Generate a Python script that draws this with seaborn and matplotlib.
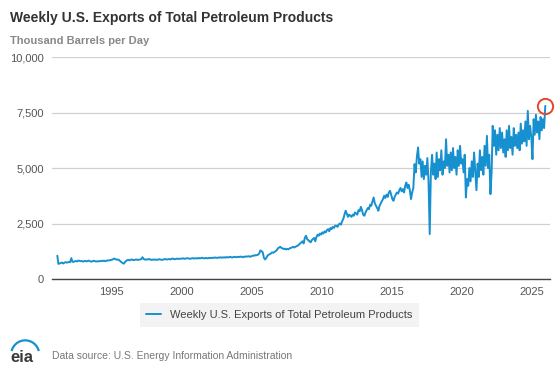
import numpy as np
import pandas as pd
import matplotlib.pyplot as plt
import matplotlib.ticker as mticker
from matplotlib.patches import Arc
import seaborn as sns

# monthly readings (thousand barrels per day), Feb 1991 .. Dec 2025
exports_1991_1999 = [
    1050, 680, 700, 720, 740, 700, 730, 760, 740, 750, 770,
    760, 940, 780, 770, 800, 810, 790, 830, 820, 800, 810, 790,
    800, 820, 790, 810, 830, 800, 780, 800, 820, 810, 790, 800,
    790, 810, 800, 820, 810, 830, 800, 820, 840, 830, 850, 860,
    870, 900, 920, 890, 870, 880, 850, 800, 760, 720, 690, 760,
    820, 850, 860, 840, 870, 880, 850, 860, 870, 880, 860, 870,
    880, 900, 980, 900, 880, 870, 890, 880, 900, 870, 860, 880,
    870, 880, 860, 870, 890, 880, 870, 860, 880, 900, 890, 880,
    890, 900, 880, 910, 920, 900, 890, 910, 920, 900, 910, 920,
]
exports_2000_2009 = [
    920, 930, 910, 920, 940, 930, 920, 910, 930, 940, 920, 930,
    940, 920, 950, 930, 940, 960, 940, 930, 950, 940, 930, 950,
    950, 940, 960, 950, 970, 960, 950, 970, 960, 980, 960, 970,
    980, 960, 990, 970, 980, 1000, 980, 970, 990, 1000, 980, 990,
    1000, 990, 1010, 1000, 980, 1010, 1000, 1020, 1010, 1030, 1000, 1020,
    1040, 1060, 1050, 1080, 1070, 1100, 1150, 1290, 1250, 1200, 950, 880,
    950, 1050, 1090, 1120, 1150, 1200, 1180, 1220, 1250, 1300, 1380, 1420,
    1450, 1400, 1380, 1350, 1370, 1330, 1360, 1340, 1380, 1400, 1420, 1450,
    1420, 1450, 1480, 1500, 1550, 1600, 1650, 1700, 1600, 1850, 1950, 1800,
    1750, 1700, 1650, 1750, 1800, 1850, 1700, 1900, 2000, 1950, 2050, 2000,
]
exports_2010_2016 = [
    2100, 2050, 2150, 2100, 2200, 2250, 2150, 2300, 2250, 2350, 2300, 2400,
    2400, 2350, 2450, 2500, 2450, 2600, 2700, 2900, 3075, 2950, 2800, 2900,
    2850, 2800, 2900, 2850, 3000, 2950, 2900, 3100, 3050, 3250, 3100, 2900,
    2850, 3000, 3100, 3200, 3150, 3350, 3300, 3500, 3675, 3400, 3300, 3200,
    3075, 3300, 3400, 3500, 3600, 3750, 3650, 3800, 3700, 3900, 3975, 3800,
    3600, 3525, 3700, 3800, 3900, 3850, 4000, 4100, 3950, 4050, 3900, 4200,
    4350, 4100, 4250, 4000, 3600, 3900, 4100, 5175, 4800, 5500, 5925, 5200,
]
exports_2017_2025 = [
    5400, 4600, 5300, 4500, 5100, 4700, 5450, 4400, 2025, 4800, 5600, 4700,
    5200, 4500, 5700, 4600, 5400, 4900, 5800, 4700, 5300, 5000, 6300, 5100,
    5600, 4800, 5700, 4900, 5900, 5000, 5500, 4700, 5800, 5100, 6000, 5200,
    5400, 4800, 5600, 3675, 4500, 4200, 5000, 4400, 5300, 4600, 5700, 4900,
    4000, 5200, 4600, 5800, 4900, 5500, 4700, 6000, 5100, 6450, 5000, 5600,
    3825, 4800, 6900, 6000, 6700, 5600, 6500, 5800, 6800, 5900, 6600, 5700,
    6300, 5500, 6700, 5800, 6900, 5900, 6400, 5600, 6800, 6000, 6500, 5900,
    6600, 5800, 7000, 6100, 6700, 6200, 7100, 6000, 7575, 6300, 6900, 6400,
    5400, 7200, 6500, 7400, 6600, 7100, 6300, 7300, 6700, 7200, 6800, 7800,
]

values = exports_1991_1999 + exports_2000_2009 + exports_2010_2016 + exports_2017_2025
dates = pd.date_range("1991-02-01", periods=len(values), freq="MS") + pd.Timedelta(days=14)
df = pd.DataFrame({"date": dates, "exports": values})

series_name = "Weekly U.S. Exports of Total Petroleum Products"
line_color = "#1790cf"

sns.set_style("white")
plt.rcParams["font.family"] = ["Liberation Sans", "DejaVu Sans"]

fig = plt.figure(figsize=(5.6, 3.73), dpi=100)
ax = fig.add_axes([0.093, 0.252, 0.889, 0.595])

sns.lineplot(data=df, x="date", y="exports", ax=ax, color=line_color,
             linewidth=1.4, label=series_name)

# red circle around the latest value
last = df.iloc[-1]
ax.plot([last["date"]], [last["exports"]], marker="o", ms=11, mfc="none",
        mec="#e5452b", mew=1.4, zorder=5, clip_on=False)

ax.set_ylim(0, 10000)
ax.set_yticks([0, 2500, 5000, 7500, 10000])
ax.yaxis.set_major_formatter(mticker.FuncFormatter(lambda v, p: f"{int(v):,}"))
ax.set_xlim(pd.Timestamp("1990-10-01"), pd.Timestamp("2026-04-15"))
years = [1995, 2000, 2005, 2010, 2015, 2020, 2025]
ax.set_xticks([pd.Timestamp(f"{y}-01-01") for y in years])
ax.set_xticklabels([str(y) for y in years])

ax.grid(axis="y", color="#d0d0d0", linewidth=0.9)
ax.set_axisbelow(True)
for s in ["top", "right", "left"]:
    ax.spines[s].set_visible(False)
ax.spines["bottom"].set_color("#444444")
ax.spines["bottom"].set_linewidth(1.0)
ax.tick_params(axis="x", colors="#444444", labelcolor="#555555", labelsize=8,
               length=4, width=0.8, direction="out", pad=2)
ax.tick_params(axis="y", labelcolor="#555555", labelsize=8, length=0, pad=6)
ax.set_xlabel("")
ax.set_ylabel("")

leg = ax.legend(loc="upper center", bbox_to_anchor=(0.456, -0.085), frameon=True,
                fontsize=8, handlelength=1.3, borderpad=0.6)
leg.get_frame().set_facecolor("#f0f0f0")
leg.get_frame().set_edgecolor("none")
leg.get_frame().set_boxstyle("square", pad=0.0)
for t in leg.get_texts():
    t.set_color("#444444")

fig.text(0.018, 0.952, "Weekly U.S. Exports of Total Petroleum Products",
         fontsize=10, fontweight="bold", color="#333333", va="center")
fig.text(0.018, 0.89, "Thousand Barrels per Day",
         fontsize=8, fontweight="bold", color="#888888", va="center")

# footer with a small eia mark
fig.text(0.018, 0.042, "eia", fontsize=12, fontweight="bold", color="#3a3a3a", va="center")
fig.patches.append(Arc((0.045, 0.05), 0.05, 0.075, theta1=20, theta2=160,
                       transform=fig.transFigure, color=line_color, lw=1.6))
fig.text(0.093, 0.045, "Data source: U.S. Energy Information Administration",
         fontsize=7.5, color="#777777", va="center")

plt.savefig("out.png", dpi=100)
